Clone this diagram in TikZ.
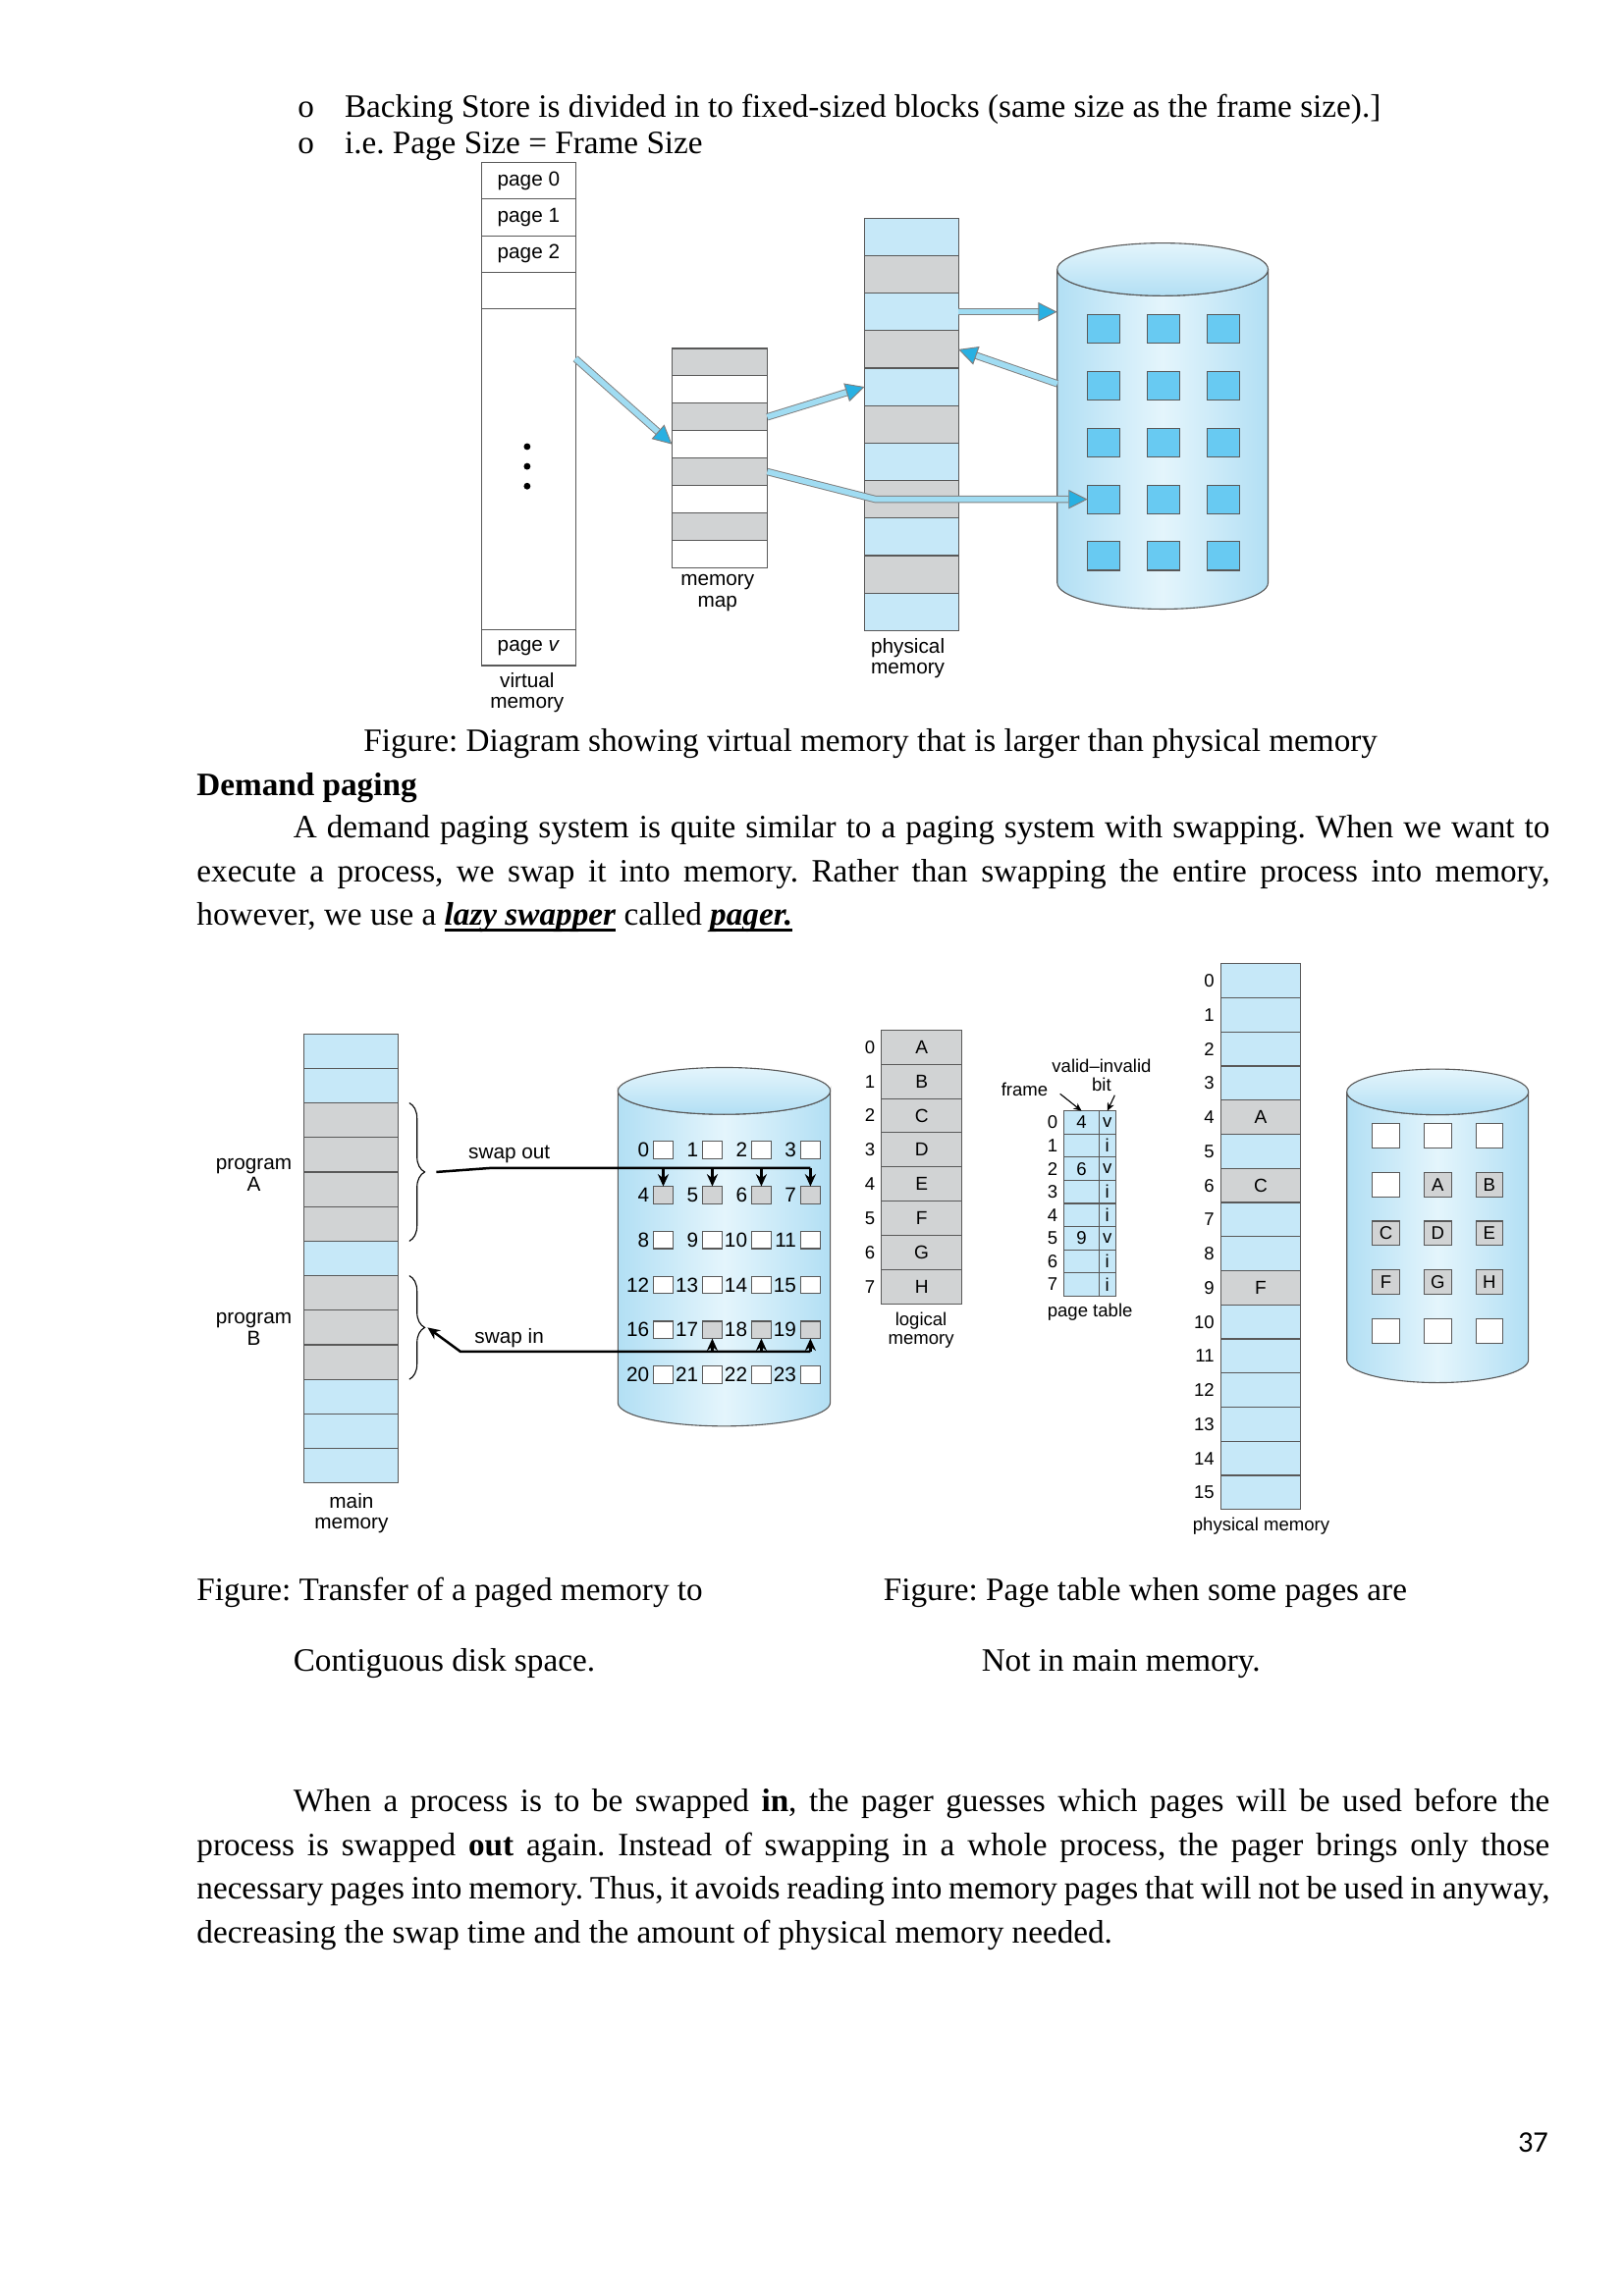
\documentclass[tikz,border=0pt]{standalone}
\usepackage{fontspec}
\setmainfont{Liberation Serif}
\newfontfamily\dia{Liberation Sans}
\newfontfamily\pnum{Carlito}
\usetikzlibrary{arrows.meta,calc,decorations.pathreplacing}
\frenchspacing
\newcommand\pxu{0.18936mm}
\newcommand\jl[1]{\hbox to 174.97mm{\spaceskip=0.25em plus 1em minus 0.15em\relax #1}}
\newcommand\thul[1]{\setbox0\hbox{#1}\rlap{\rule[-2.3pt]{\wd0}{1.1pt}}\box0\relax}
\definecolor{memblue}{RGB}{198,232,248}
\definecolor{memgray}{RGB}{209,211,212}
\definecolor{cylside}{RGB}{178,223,244}
\definecolor{cylmid}{RGB}{228,245,252}
\definecolor{sqcyan}{RGB}{104,202,242}
\definecolor{arrfill}{RGB}{160,220,242}
\definecolor{arrtip}{RGB}{40,176,226}
\tikzset{
  cell/.style   = {draw=black!65, line width=0.4pt, inner sep=0pt, outer sep=0pt,
                   anchor=north west, font=\dia\fontsize{7.5}{8}\selectfont},
  lab/.style    = {font=\dia\fontsize{7.5}{7.8}\selectfont, align=center, inner sep=0pt},
  slab/.style   = {font=\dia\fontsize{6.7}{7}\selectfont, align=center, inner sep=0pt},
  txt/.style    = {font=\fontsize{12}{14}\selectfont, anchor=base west, inner sep=0pt},
  hold/.style   = {inner sep=0pt, outer sep=0pt, anchor=north west},
  cyl/.style    = {draw=black!65, line width=0.4pt, left color=cylside,
                   right color=cylside, middle color=cylmid},
  cyltop/.style = {draw=black!65, line width=0.4pt, top color=cylmid, bottom color=cylside},
  fat/.style    = {draw=black!50, line width=0.35pt, double=arrfill, double distance=2pt,
                   -{Triangle[length=7pt, width=7pt, color=black!50, fill=arrtip, line width=0.35pt]}},
  brc/.style    = {decorate, decoration={brace, amplitude=2mm}, line width=0.4pt},
  sw/.style     = {line width=0.9pt},
  swa/.style    = {sw, -{Stealth[length=4.5pt, width=4pt]}},
  tarr/.style   = {line width=0.4pt, -{Stealth[length=3pt, width=2.6pt]}},
  dot/.style    = {circle, fill, inner sep=0pt, minimum size=4.6*\pxu},
}
\begin{document}
\begin{tikzpicture}[x=0.18936mm, y=-0.18941mm]
\useasboundingbox (0,0) rectangle (1109,1568);

% text above the first figure
\node[txt] (b1) at (203,80) {o};
\node[txt] (t1) at (235,80) {Backing Store is divided in to fixed-sized blocks (same size as the frame size).]};
\node[txt] (b2) at (203,105) {o};
\node[txt] (t2) at (235,105) {i.e. Page Size = Frame Size};

% virtual memory
\node[cell, fill=white, minimum width=64*\pxu, minimum height=25*\pxu] (vm0) at (329,111) {page 0};
\node[cell, fill=white, minimum width=64*\pxu, minimum height=25*\pxu] (vm1) at (329,136) {page 1};
\node[cell, fill=white, minimum width=64*\pxu, minimum height=25*\pxu] (vm2) at (329,161) {page 2};
\node[cell, fill=white, minimum width=64*\pxu, minimum height=25*\pxu] (vm3) at (329,186) {};
\node[cell, fill=white, minimum width=64*\pxu, minimum height=219*\pxu] (vm4) at (329,211) {};
\node[cell, fill=white, minimum width=64*\pxu, minimum height=24.5*\pxu] (vm5) at (329,430) {page \textit{v}};
\foreach \i in {0,1,2}
  \node[dot] (dt\i) at (360,{305+13.5*\i}) {};
\node[lab] (vmlab) at (360,473) {virtual\\memory};

% memory map
\foreach \f [count=\i from 0] in {memgray,white,memgray,white,memgray,white,memgray,white}
  \node[cell, fill=\f, minimum width=65*\pxu, minimum height=18.7*\pxu] (map\i) at (459,{238+18.7*\i}) {};
\node[lab] (maplab) at (490,405) {memory\\map};

% physical memory
\foreach \f [count=\i from 0] in {memblue,memgray,memblue,memgray,memblue,memgray,memblue,memgray,memblue,memgray,memblue}
  \node[cell, fill=\f, minimum width=64*\pxu, minimum height=25.6*\pxu] (phy\i) at (590.5,{149+25.6*\i}) {};
\node[lab] (phylab) at (620,449.5) {physical\\memory};

% backing store
\node[hold, minimum width=144*\pxu, minimum height=214*\pxu] (disk1) at (722,184) {};
\draw[cyl] (disk1.north west) -- (disk1.south west) arc[start angle=180, end angle=0, x radius=72, y radius=18]
  -- (disk1.north east) arc[start angle=0, end angle=180, x radius=72, y radius=18] -- cycle;
\draw[cyltop] (disk1.north) ellipse[x radius=72, y radius=18];
\foreach \n in {0,...,14}{
  \pgfmathtruncatemacro\c{mod(\n,3)}
  \pgfmathtruncatemacro\r{\n/3}
  \node[cell, fill=sqcyan, minimum width=22*\pxu, minimum height=19.5*\pxu] (sq\n) at ({742.7+41*\c},{215+38.75*\r}) {};
}

\draw[fat] ($(vm4.north east)!0.155!(vm4.south east)$) -- (map3.west);
\draw[fat] (map2.east) -- (phy4.west);
\draw[fat] (map4.east) -- ($(phy7.west)+(7.5,0)$) -- (sq9.west);
\draw[fat] (phy2.east) -- (phy2.east -| disk1.west);
\draw[fat] ($(disk1.north west)+(0,78)$) -- (phy3.east);

\node[txt] (cap1) at (248,513) {Figure: Diagram showing virtual memory that is larger than physical memory};

% demand paging text
\node[txt] (hd) at (134,543) {\textbf{Demand paging}};
\node[txt] (p1) at (134,572) {\jl{\hspace*{12.5mm}A demand paging system is quite similar to a paging system with swapping. When we want to}};
\node[txt] (p2) at (134,602) {\jl{execute a process, we swap it into memory. Rather than swapping the entire process into memory,}};
\node[txt] (p3) at (134,632) {however, we use a \thul{\textbf{\textit{lazy swapper}}} called \thul{\textbf{\textit{pager.}}}};

% main memory and swapping disk
\foreach \f [count=\i from 0] in {memblue,memblue,memgray,memgray,memgray,memgray,memblue,memgray,memgray,memgray,memblue,memblue,memblue}
  \node[cell, fill=\f, minimum width=64.6*\pxu, minimum height=23.6*\pxu] (main\i) at (207.4,{706+23.6*\i}) {};
\node[lab] (mainlab) at (240,1033.5) {main\\memory};
\node[lab] (prA) at (173.4,802.5) {program\\A};
\node[lab] (prB) at (173.4,907.5) {program\\B};
\draw[brc] ($(main2.north east)+(7.5,0)$) -- ($(main5.south east)+(7.5,0)$);
\draw[brc] ($(main7.north east)+(7.5,0)$) -- ($(main9.south east)+(7.5,0)$);
\coordinate (tipA) at ($(main3.south east)+(19,0)$);
\coordinate (tipB) at (tipA |- main8.east);

\node[hold, minimum width=145*\pxu, minimum height=213*\pxu] (disk2) at (422,745) {};
\draw[cyl] (disk2.north west) -- (disk2.south west) arc[start angle=180, end angle=0, x radius=72.5, y radius=16]
  -- (disk2.north east) arc[start angle=0, end angle=180, x radius=72.5, y radius=16] -- cycle;
\draw[cyltop] (disk2.north) ellipse[x radius=72.5, y radius=16];
\foreach \n in {0,1,2,3,8,9,10,11,12,13,14,15,16,20,21,22,23}{
  \pgfmathtruncatemacro\c{mod(\n,4)}
  \pgfmathtruncatemacro\r{\n/4}
  \node[cell, fill=white, minimum width=13.7*\pxu, minimum height=11.8*\pxu] (bx\n) at ({446.1+33.5*\c},{779.5+30.7*\r}) {};
  \node[lab, anchor=east, inner sep=1.3pt] (bn\n) at (bx\n.west) {\n};
}
\foreach \n in {4,5,6,7,17,18,19}{
  \pgfmathtruncatemacro\c{mod(\n,4)}
  \pgfmathtruncatemacro\r{\n/4}
  \node[cell, fill=memgray, minimum width=13.7*\pxu, minimum height=11.8*\pxu] (bx\n) at ({446.1+33.5*\c},{779.5+30.7*\r}) {};
  \node[lab, anchor=east, inner sep=1.3pt] (bn\n) at (bx\n.west) {\n};
}

\coordinate (knA) at (336,797.6);
\draw[sw] ($(tipA)+(7,0)$) -- (knA) -- (knA -| bx7.north);
\foreach \n in {4,...,7}
  \draw[swa] (knA -| bx\n.north) -- (bx\n.north);
\node[lab] (solab) at (347.8,788.5) {swap out};
\coordinate (knB) at (314.4,923);
\draw[swa] (knB -| bx19.south) -- (knB) -- ($(tipB)+(1,0)$);
\foreach \n in {17,18,19}
  \draw[swa] (knB -| bx\n.south) -- (bx\n.south);
\node[lab] (silab) at (347.8,913.5) {swap in};

% logical memory, page table, physical memory
\foreach \t [count=\i from 0] in {A,B,C,D,E,F,G,H}{
  \node[cell, fill=memgray, minimum width=55.2*\pxu, minimum height=23.35*\pxu, font=\dia\fontsize{6.9}{8}\selectfont] (lm\i) at (601.8,{703.5+23.35*\i}) {\t};
  \node[slab] (lmi\i) at ($(lm\i.west)+(-7.7,0)$) {\i};
}
\node[slab] (lmlab) at (629,908.5) {logical\\memory};

\foreach \fr/\b [count=\i from 0] in {4/v,{}/i,6/v,{}/i,{}/i,9/v,{}/i,{}/i}{
  \node[cell, fill=memblue, minimum width=23.7*\pxu, minimum height=15.8*\pxu, font=\dia\fontsize{6.7}{7}\selectfont] (ptf\i) at (726.8,{758.7+15.8*\i}) {\fr};
  \node[cell, fill=memblue, minimum width=11.4*\pxu, minimum height=15.8*\pxu, font=\dia\fontsize{6.7}{7}\selectfont] (ptb\i) at (ptf\i.north east) {\b};
  \node[slab] (pti\i) at ($(ptf\i.west)+(-8,0)$) {\i};
}
\node[slab] (frm) at (699.7,744) {frame};
\node[slab] (vib) at (752.3,734.5) {valid\textendash invalid\\bit};
\draw[tarr] ($(frm.east)+(8,3)$) -- (ptf0.north);
\draw[tarr] ($(vib.south)+(9,2)$) -- (ptb0.north);
\node[slab] (ptlab) at (744.4,896) {page table};

\foreach \f/\t [count=\i from 0] in {memblue/{},memblue/{},memblue/{},memblue/{},memgray/A,memblue/{},memgray/C,memblue/{},memblue/{},memgray/F,memblue/{},memblue/{},memblue/{},memblue/{},memblue/{},memblue/{}}{
  \node[cell, fill=\f, minimum width=54.8*\pxu, minimum height=23.3*\pxu, font=\dia\fontsize{6.9}{8}\selectfont] (pf\i) at (833.6,{658.1+23.3*\i}) {\t};
  \node[slab, anchor=east] (pfi\i) at ($(pf\i.west)+(-4,0)$) {\i};
}
\node[slab] (pflab) at (861.3,1042.5) {physical memory};

\node[hold, minimum width=124*\pxu, minimum height=183*\pxu] (disk3) at (919.8,745.7) {};
\draw[cyl] (disk3.north west) -- (disk3.south west) arc[start angle=180, end angle=0, x radius=62, y radius=15.6]
  -- (disk3.north east) arc[start angle=0, end angle=180, x radius=62, y radius=15.6] -- cycle;
\draw[cyltop] (disk3.north) ellipse[x radius=62, y radius=15.6];
\foreach \n in {0,1,2,3,12,13,14}{
  \pgfmathtruncatemacro\c{mod(\n,3)}
  \pgfmathtruncatemacro\r{\n/3}
  \node[cell, fill=white, minimum width=18.5*\pxu, minimum height=16.7*\pxu] (dk\n) at ({937.3+35.3*\c},{767.2+33.35*\r}) {};
}
\foreach \t [count=\n from 4] in {A,B,C,D,E,F,G,H}{
  \pgfmathtruncatemacro\c{mod(\n,3)}
  \pgfmathtruncatemacro\r{\n/3}
  \node[cell, fill=memgray, minimum width=18.5*\pxu, minimum height=16.7*\pxu, font=\dia\fontsize{6.7}{7}\selectfont] (dk\n) at ({937.3+35.3*\c},{767.2+33.35*\r}) {\t};
}

% captions and closing text
\node[txt] (cap2) at (134,1093) {Figure: Transfer of a paged memory to};
\node[txt] (cap2b) at (200,1141) {Contiguous disk space.};
\node[txt] (cap3) at (603,1093) {Figure: Page table when some pages are};
\node[txt] (cap3b) at (670,1141) {Not in main memory.};

\node[txt] (q1) at (134,1237) {\jl{\hspace*{12.5mm}When a process is to be swapped \textbf{in}, the pager guesses which pages will be used before the}};
\node[txt] (q2) at (134,1267) {\jl{process is swapped \textbf{out} again. Instead of swapping in a whole process, the pager brings only those}};
\node[txt] (q3) at (134,1297) {\jl{necessary pages into memory. Thus, it avoids reading into memory pages that will not be used in anyway,}};
\node[txt] (q4) at (134,1327) {decreasing the swap time and the amount of physical memory needed.};

\node[anchor=base, inner sep=0pt, font=\pnum\fontsize{11}{13}\selectfont] (pg) at (1047,1470) {37};
\end{tikzpicture}
\end{document}
